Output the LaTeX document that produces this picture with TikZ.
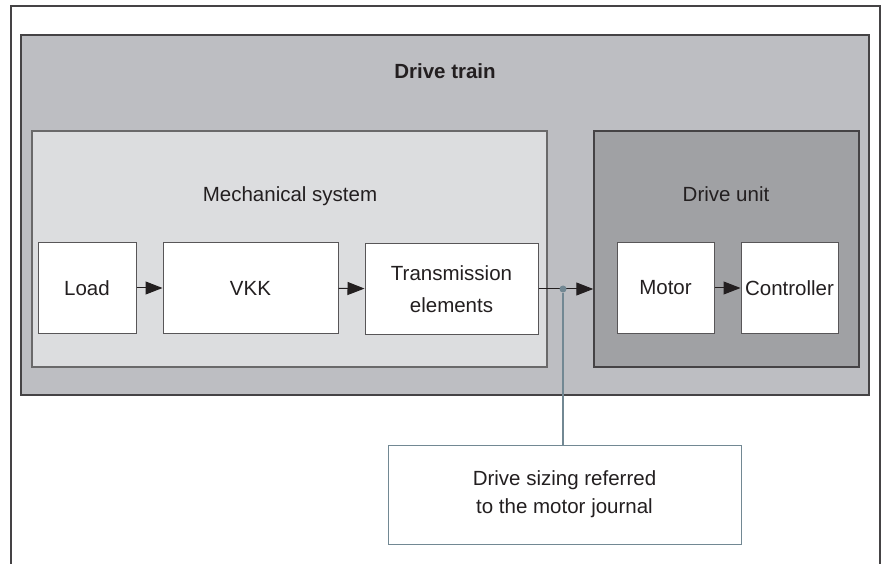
\documentclass[tikz,border=0pt]{standalone}
\usepackage{fontspec}
\setmainfont{Liberation Sans}
\usetikzlibrary{arrows.meta, shapes}

\definecolor{txt}{HTML}{231F20}
\definecolor{frame}{HTML}{454345}
\definecolor{trainfill}{HTML}{BDBEC2}
\definecolor{mechfill}{HTML}{DCDDDF}
\definecolor{unitfill}{HTML}{A0A1A4}
\definecolor{slate}{HTML}{728893}

\begin{document}
\begin{tikzpicture}[x=1pt, y=-1pt, font=\fontsize{20.5}{30}\selectfont, text=txt,
  panel/.style={rectangle, draw=frame, line width=1.5pt},
  part/.style={rectangle, draw=frame!90, fill=white, line width=1pt, minimum height=90, align=center},
  flow/.style={-{Triangle[length=17pt, width=13pt]}, line width=1pt, draw=txt}]
\useasboundingbox (0,0) rectangle (884,564);

% frame, open at the bottom
\draw[frame, line width=2pt] (11,564) -- (11,6) -- (880,6) -- (880,564);

\node[panel, fill=trainfill, minimum width=848, minimum height=360] (train) at (445,215) {};
\node[panel, draw=frame!80, fill=mechfill, minimum width=515, minimum height=236] (mech) at (289.5,249) {};
\node[panel, fill=unitfill, minimum width=265, minimum height=236] (unit) at (726.5,249) {};

\node[anchor=base, font=\fontsize{20.5}{30}\selectfont\bfseries] (trainlbl) at (445,79) {Drive train};
\node[anchor=base] (mechlbl) at (290,202) {Mechanical system};
\node[anchor=base] (unitlbl) at (726,202) {Drive unit};

\node[part, minimum width=98]  (load)  at (87,288)    {Load};
\node[part, minimum width=175] (vkk)   at (250.5,288) {VKK};
\node[part, minimum width=173] (trans) at (451.5,289) {Transmission\\[2pt]elements};
\node[part, minimum width=97]  (motor) at (665.5,288) {Motor};
\node[part, minimum width=97]  (ctrl)  at (789.5,288) {Controller};

\draw[flow] (load) -- (vkk);
\draw[flow] (vkk) -- (trans);
\draw[flow] (trans.east) -- (trans.east -| unit.west);
\draw[flow] (motor) -- (ctrl);

\node[circle, fill=slate, inner sep=0pt, minimum size=7] (tap) at (563,289) {};
\node[rectangle, draw=slate, fill=white, line width=1pt, minimum width=353, minimum height=99, align=center] (sizing) at (564.5,494.5) {Drive sizing referred\\[-2pt]to the motor journal};

\draw[slate, line width=1.5pt] (tap) -- (tap |- sizing.north);
\end{tikzpicture}
\end{document}
